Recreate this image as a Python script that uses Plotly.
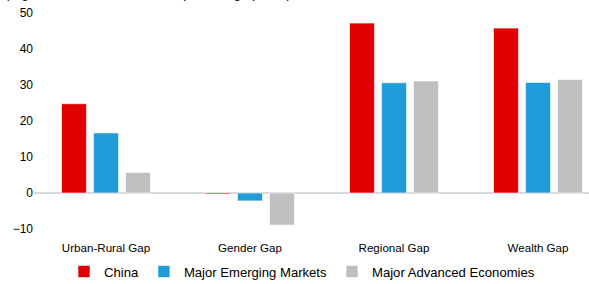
import plotly.graph_objects as go

categories = ["Urban-Rural Gap", "Gender Gap", "Regional Gap", "Wealth Gap"]
china = [24.8, -0.3, 47.2, 45.8]
emerging = [16.7, -2.2, 30.6, 30.7]
advanced = [5.7, -8.9, 31.1, 31.5]
y_ticks = [-10, 0, 10, 20, 30, 40, 50]
subtitle = "(Highest - lowest, difference in percentage points)"

series = [
    ("China", china, "#E00000"),
    ("Major Emerging Markets", emerging, "#1E9DDA"),
    ("Major Advanced Economies", advanced, "#BFBFBF"),
]

fig = go.Figure()
for name, vals, col in series:
    fig.add_trace(go.Bar(
        x=list(range(len(categories))), y=vals, name=name,
        marker=dict(color=col, line=dict(color="rgba(255,255,255,0.6)", width=1)),
    ))

W, H = 589, 284
ml, mt, mb = 34, 13, 55
plot_w = W - ml
plot_h = H - mt - mb
span = plot_w / 144.0

fig.update_layout(
    width=W, height=H,
    margin=dict(l=ml, r=0, t=mt, b=mb, autoexpand=False),
    paper_bgcolor="white", plot_bgcolor="white",
    barmode="group", bargap=0.333, bargroupgap=0.22,
    font=dict(family="Liberation Sans, Arial, sans-serif", color="#000000", size=12),
    showlegend=True,
    legend=dict(orientation="h", x=(64 - ml) / plot_w, xanchor="left",
                y=(mt + plot_h - 272) / plot_h, yanchor="middle",
                font=dict(size=13.1), itemwidth=30, traceorder="normal"),
    xaxis=dict(range=[-0.5, -0.5 + span], tickmode="array",
               tickvals=list(range(len(categories))), ticktext=categories,
               showgrid=False, showline=False, ticks="", zeroline=False,
               automargin=False, tickfont=dict(size=11.6), ticklabelstandoff=10),
    yaxis=dict(range=[-10, 50], tickmode="array", tickvals=y_ticks,
               showgrid=False, showline=False, ticks="",
               zeroline=True, zerolinecolor="#D9D9D9", zerolinewidth=2,
               automargin=False, tickfont=dict(size=12), ticklabelstandoff=0),
    annotations=[dict(text=subtitle, xref="paper", yref="paper",
                      x=-31 / plot_w, y=1 + (mt - 2.8) / plot_h, xanchor="left",
                      yanchor="bottom", showarrow=False, font=dict(size=13))],
)

fig.write_html("out.html", config={"displayModeBar": False},
               post_script="document.body.style.margin='0';")
